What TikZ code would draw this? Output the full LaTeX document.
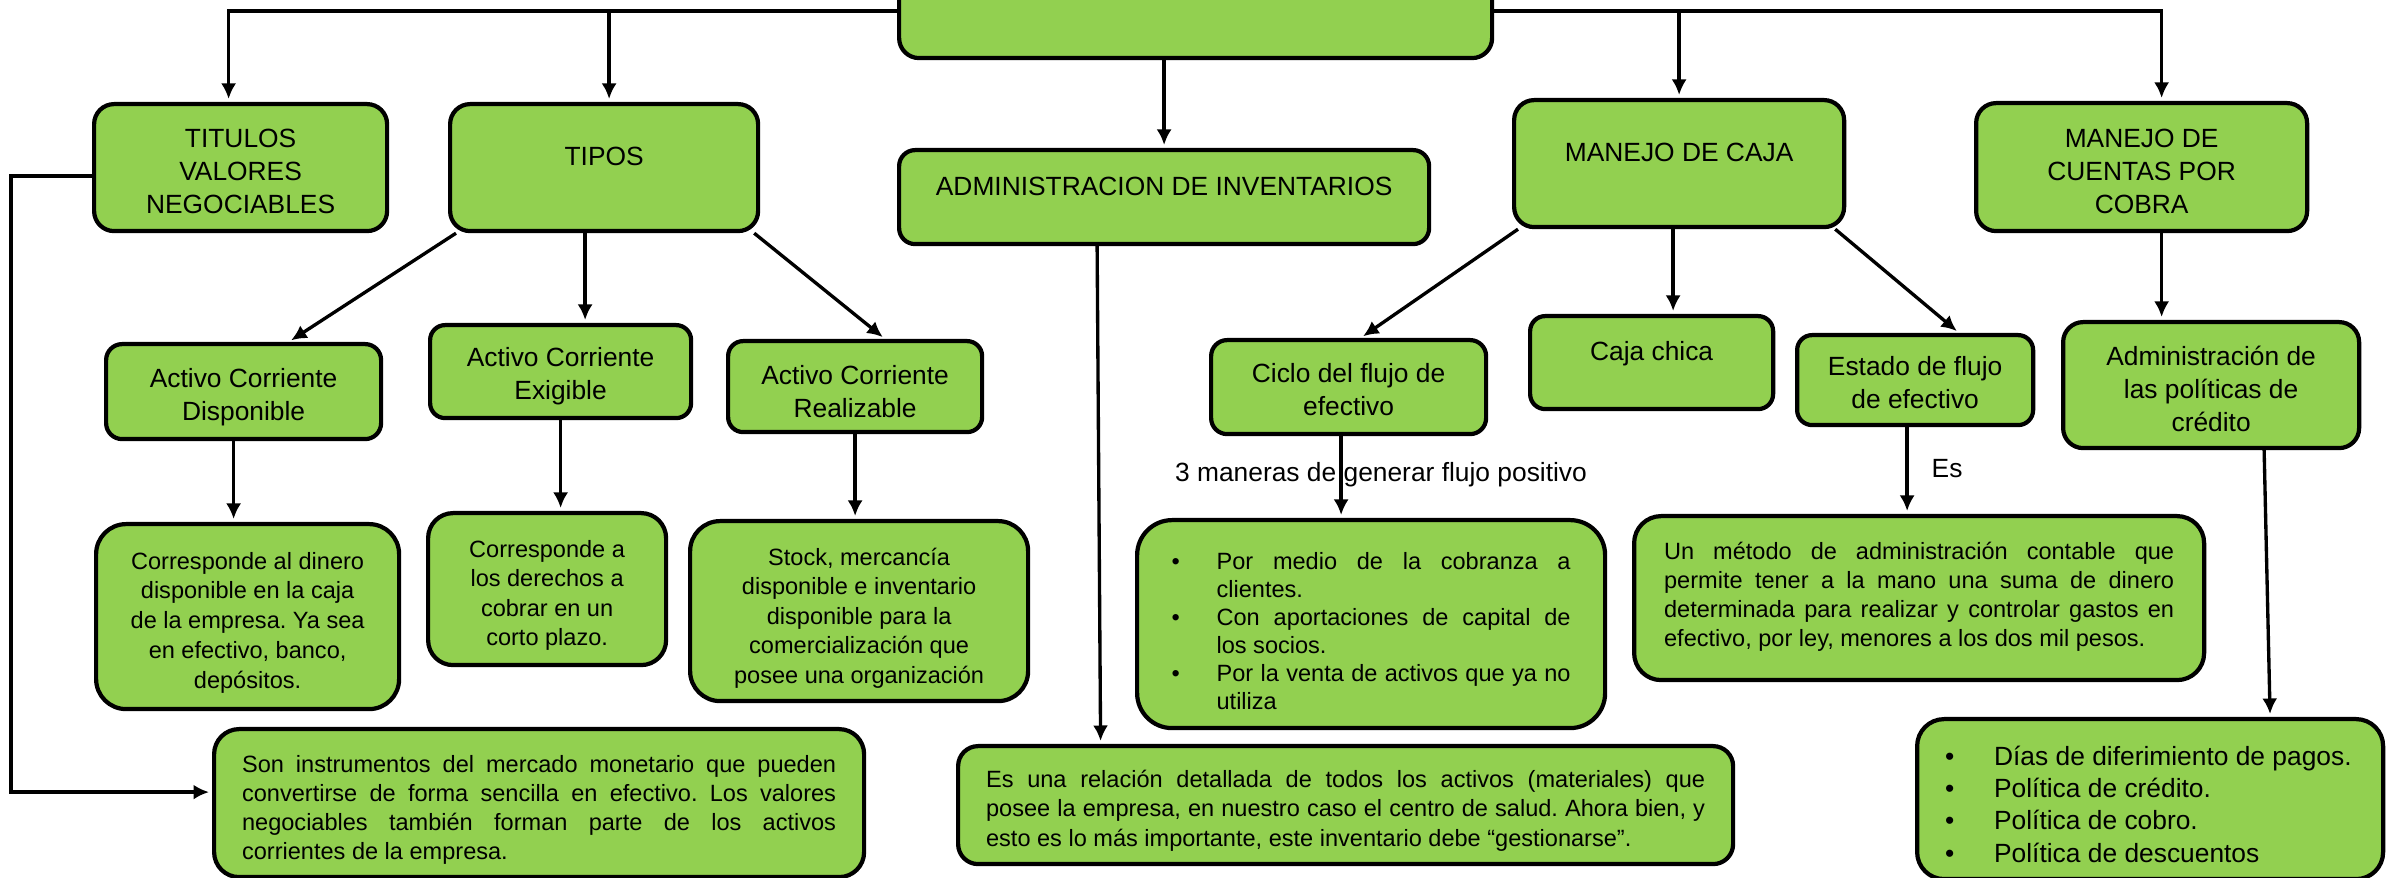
\documentclass[tikz,border=0pt]{standalone}
\usepackage{fontspec}
\setmainfont{Liberation Sans}
\frenchspacing
\usetikzlibrary{arrows.meta}
\definecolor{verde}{HTML}{92D050}

\begin{document}
\begin{tikzpicture}[x=0.1mm,y=-0.1mm,>={Latex[length=1.55mm,width=1.5mm]},
    caja/.style={draw,line width=1.2pt,fill=verde,rounded corners=2mm,inner sep=0pt,anchor=north west},
    titulo/.style={caja,font=\fontsize{7.5}{9.4}\selectfont},
    texto/.style={caja,font=\fontsize{6.7}{8.4}\selectfont},
    flecha/.style={->,line width=0.95pt,shorten >=0.3mm}]
    \useasboundingbox (0,0) rectangle (2395,878);
    \clip (0,0) rectangle (2395,878);

    % primera fila
    \node[caja,minimum width=59.3mm,minimum height=9.4mm] (raiz) at (897,-38) {};
    \node[titulo,minimum width=29.3mm,text height=4.3mm,text depth=8.4mm] (tit) at (92,102) {\parbox[t]{27mm}{\centering TITULOS\\VALORES\\NEGOCIABLES}};
    \node[titulo,minimum width=30.8mm,text height=6.1mm,text depth=6.6mm] (tip) at (448,102) {\parbox[t]{28mm}{\centering TIPOS}};
    \node[titulo,minimum width=53mm,text height=4.5mm,text depth=4.9mm,rounded corners=1.6mm] (adm) at (897,148) {ADMINISTRACION DE INVENTARIOS};
    \node[titulo,minimum width=33mm,text height=6.1mm,text depth=6.6mm] (caj) at (1512,98) {MANEJO DE CAJA};
    \node[titulo,minimum width=33.1mm,text height=4.4mm,text depth=8.4mm] (cue) at (1974,101) {\parbox[t]{30mm}{\centering MANEJO DE\\CUENTAS POR\\COBRA}};

    % segunda fila
    \node[titulo,minimum width=27.5mm,text height=4.3mm,text depth=5.2mm,rounded corners=1.6mm] (dis) at (104,342) {\parbox[t]{25.5mm}{\centering Activo Corriente\\Disponible}};
    \node[titulo,minimum width=26.1mm,text height=4.1mm,text depth=5.2mm,rounded corners=1.5mm] (exi) at (428,323) {\parbox[t]{24mm}{\centering Activo Corriente\\Exigible}};
    \node[titulo,minimum width=25.4mm,text height=4.3mm,text depth=4.8mm,rounded corners=1.5mm] (rea) at (726,339) {\parbox[t]{23.5mm}{\centering Activo Corriente\\Realizable}};
    \node[titulo,minimum width=27.5mm,text height=4.2mm,text depth=5.2mm,rounded corners=1.6mm] (cic) at (1209,338) {\parbox[t]{25.5mm}{\centering Ciclo del flujo de\\efectivo}};
    \node[titulo,minimum width=24.3mm,text height=4.4mm,text depth=4.9mm,rounded corners=1.5mm] (chi) at (1528,314) {Caja chica};
    \node[titulo,minimum width=23.6mm,text height=4.0mm,text depth=5.0mm,rounded corners=1.5mm] (est) at (1795,333) {\parbox[t]{22mm}{\centering Estado de flujo\\de efectivo}};
    \node[titulo,minimum width=29.6mm,text height=4.3mm,text depth=8.3mm] (pol) at (2061,320) {\parbox[t]{28mm}{\centering Administración de\\las políticas de\\crédito}};

    % textos
    \node[texto,minimum width=30.3mm,text height=4.5mm,text depth=14mm,rounded corners=3mm,font=\fontsize{6.7}{8.5}\selectfont] (t1) at (94,522) {\parbox[t]{28mm}{\centering Corresponde al dinero\\disponible en la caja\\de la empresa. Ya sea\\en efectivo, banco,\\depósitos.}};
    \node[texto,minimum width=23.8mm,text height=4.4mm,text depth=10.8mm,rounded corners=2.5mm] (t2) at (426,511) {\parbox[t]{22mm}{\centering Corresponde a\\los derechos a\\cobrar en un\\corto plazo.}};
    \node[texto,minimum width=33.8mm,text height=4.4mm,text depth=13.6mm,rounded corners=3mm] (t3) at (688,519) {\parbox[t]{31mm}{\centering Stock, mercancía\\disponible e inventario\\disponible para la\\comercialización que\\posee una organización}};
    \node[texto,minimum width=65mm,text height=4.3mm,text depth=10.5mm,rounded corners=2.5mm,font=\fontsize{6.7}{8.3}\selectfont] (son) at (212,727) {\parbox[t]{59.4mm}{\sloppy Son instrumentos del mercado monetario que pueden\linebreak convertirse de forma sencilla en efectivo. Los valores\linebreak negociables también forman parte de los activos\linebreak corrientes de la empresa.}};
    \node[texto,minimum width=46.8mm,text height=4.9mm,text depth=15.9mm,rounded corners=3.5mm,font=\fontsize{6.7}{8}\selectfont] (bul) at (1135,518) {\parbox[t]{39.9mm}{\sloppy
      \hangindent=4.5mm\hangafter=1\makebox[4.5mm][l]{\textbullet}Por medio de la cobranza a\linebreak clientes.\par
      \hangindent=4.5mm\hangafter=1\makebox[4.5mm][l]{\textbullet}Con aportaciones de capital de\linebreak los socios.\par
      \hangindent=4.5mm\hangafter=1\makebox[4.5mm][l]{\textbullet}Por la venta de activos que ya no\linebreak utiliza}};
    \node[texto,minimum width=57mm,text height=4.3mm,text depth=12.1mm,rounded corners=2.7mm,font=\fontsize{6.7}{8.3}\selectfont] (met) at (1632,514) {\parbox[t]{51mm}{\sloppy Un método de administración contable que\linebreak permite tener a la mano una suma de dinero\linebreak determinada para realizar y controlar gastos en\linebreak efectivo, por ley, menores a los dos mil pesos.}};
    \node[texto,minimum width=77.5mm,text height=4.1mm,text depth=7.7mm] (rel) at (956,744) {\parbox[t]{71.9mm}{\sloppy Es una relación detallada de todos los activos (materiales) que\linebreak posee la empresa, en nuestro caso el centro de salud. Ahora bien, y\linebreak esto es lo más importante, este inventario debe “gestionarse”.}};
    \node[texto,minimum width=46.6mm,text height=4.6mm,text depth=11.4mm,rounded corners=2.7mm,font=\fontsize{7.5}{9.2}\selectfont] (dia) at (1915,717) {\parbox[t]{41mm}{\makebox[4.9mm][l]{\textbullet}Días de diferimiento de pagos.\\
      \makebox[4.9mm][l]{\textbullet}Política de crédito.\\
      \makebox[4.9mm][l]{\textbullet}Política de cobro.\\
      \makebox[4.9mm][l]{\textbullet}Política de descuentos}};

    \node[font=\fontsize{7.5}{9}\selectfont,anchor=base,inner sep=0pt] (maneras) at (1381,482) {3 maneras de generar flujo positivo};
    \node[font=\fontsize{7.5}{9}\selectfont,anchor=base west,inner sep=0pt] (es) at (1931,478) {Es};

    % flechas
    \draw[flecha] (raiz.west) -| ([xshift=-1.2mm]tit.north);
    \draw[flecha] ([xshift=0.5mm]tip.north |- raiz.west) -- ([xshift=0.5mm]tip.north);
    \draw[flecha] (adm.north |- raiz.south) -- (adm.north);
    \draw[flecha] (raiz.east) -| ([xshift=2mm]cue.north);
    \draw[flecha] (caj.north |- raiz.east) -- (caj.north);
    \draw[flecha] ([yshift=-0.85mm]tit.west) -- ++(-81,0) |- ([yshift=1.1mm]son.west);
    \draw[flecha] ([xshift=0.8mm]tip.south west) -- ([xshift=4.5mm]dis.north);
    \draw[flecha] ([xshift=-1.9mm]tip.south) -- ([xshift=-1.9mm]tip.south |- exi.north);
    \draw[flecha] ([xshift=-0.6mm]tip.south east) -- ([xshift=3mm]rea.north);
    \draw[flecha] ([xshift=-1mm]dis.south) -- ([xshift=-1mm]dis.south |- t1.north);
    \draw[flecha] (exi.south) -- (exi.south |- t2.north);
    \draw[flecha] (rea.south) -- (rea.south |- t3.north);
    \draw[flecha] ([xshift=-6.7mm]adm.south) -- ([xshift=-24.5mm]rel.north);
    \draw[flecha] ([xshift=0.6mm]caj.south west) -- ([xshift=1.2mm]cic.north);
    \draw[flecha] ([xshift=-0.6mm]caj.south) -- ([xshift=-0.6mm]caj.south |- chi.north);
    \draw[flecha] ([xshift=-1.1mm]caj.south east) -- ([xshift=4.4mm]est.north);
    \draw[flecha] ([xshift=2mm]cue.south) -- ([xshift=2mm]cue.south |- pol.north);
    \draw[flecha] ([xshift=-0.75mm]cic.south) -- ([xshift=-0.75mm]cic.south |- bul.north);
    \draw[flecha] ([xshift=-0.8mm]est.south) -- ([xshift=-0.8mm]est.south |- met.north);
    \draw[flecha] ([xshift=5.3mm]pol.south) -- ([xshift=12mm]dia.north);
\end{tikzpicture}
\end{document}
